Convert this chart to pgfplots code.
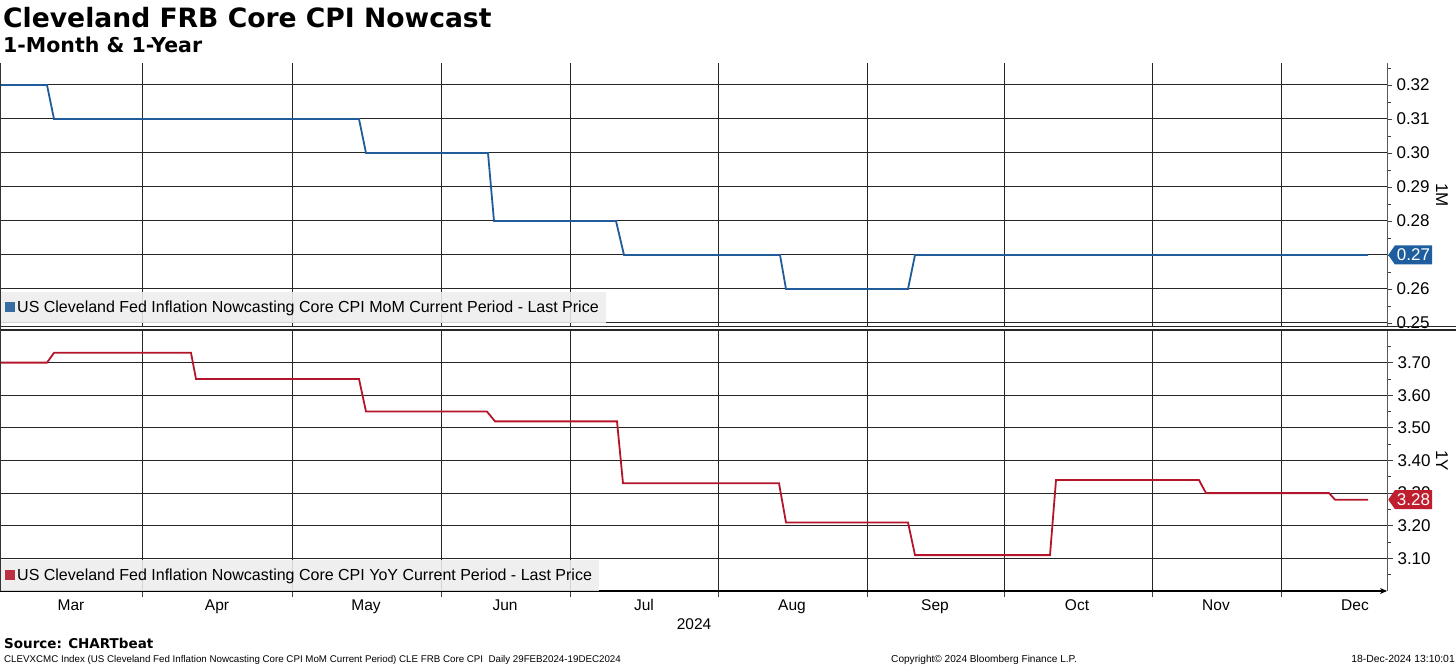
\documentclass[border=0pt]{standalone}
\usepackage{fontspec}
\setmainfont{Liberation Sans}
\newfontfamily\headfont{DejaVu Sans}
\usepackage{pgfplots}
\pgfplotsset{compat=1.18}
\usetikzlibrary{shapes.symbols,arrows.meta}

\definecolor{momblue}{HTML}{1F5C99}
\definecolor{tagblue}{HTML}{1E5E9E}
\definecolor{yoyred}{HTML}{B5152B}
\definecolor{tagred}{HTML}{BE1E2D}
\definecolor{legfill}{HTML}{EDEDED}

\pgfplotsset{
  panel/.style={
    scale only axis,
    width=1387pt,
    xmin=0, xmax=1387,
    clip mode=individual,
    axis x line*=bottom,
    axis y line*=right,
    y axis line style={black!65, line width=1pt},
    xtick={142,292,441,570,718,867,1004,1152,1281},
    xticklabels={},
    grid=major,
    major grid style={black!85, line width=1pt},
    tick align=outside,
    major tick length=5pt,
    minor tick length=4pt,
    every tick/.style={black!75, line width=0.8pt},
    yticklabel style={font=\fontsize{17}{17}\selectfont, xshift=1pt},
    /pgf/number format/.cd, fixed, fixed zerofill, precision=2, assume math mode=true,
    /pgfplots/.cd,
    ylabel style={rotate=180, font=\fontsize{17}{17}\selectfont,
      at={(axis description cs:1.0397,0.5)}, anchor=center},
    legend cell align=left,
    legend image code/.code={\fill[##1, draw=none] (0pt,-5pt) rectangle (10pt,5pt);},
    legend style={draw=none, fill=legfill, fill opacity=0.88, text opacity=1,
      font=\fontsize{16}{16}\selectfont, inner xsep=5pt, inner ysep=7pt,
      anchor=south west},
  },
}

\begin{document}
\begin{tikzpicture}[x=1pt,y=1pt]
\useasboundingbox (0,0) rectangle (1456,-666);

% titles
\node[anchor=base west, inner sep=0pt, font=\headfont\bfseries\fontsize{26.6}{26.6}\selectfont] at (3,-28) {Cleveland FRB Core CPI Nowcast};
\node[anchor=base west, inner sep=0pt, font=\headfont\bfseries\fontsize{20.5}{20.5}\selectfont] at (3,-53) {1-Month \& 1-Year};

% 1-month panel
\begin{axis}[panel,
  at={(0pt,-63pt)}, anchor=north west,
  height=264pt,
  ymin=0.24882, ymax=0.32647,
  ytick={0.25,0.26,0.27,0.28,0.29,0.30,0.31,0.32},
  minor ytick={0.255,0.265,0.275,0.285,0.295,0.305,0.315,0.325},
  x axis line style={draw=none},
  major x tick style={draw=none},
  ylabel={1M},
  legend style={at={(0,0.015)}},
]
\addplot[momblue, line width=1.8pt] coordinates {
  (0,0.32) (47,0.32) (54,0.31) (359,0.31) (366,0.30) (488,0.30) (494,0.28)
  (616,0.28) (624,0.27) (780,0.27) (786,0.26) (908,0.26) (915,0.27) (1368,0.27)
};
\addlegendentry{US Cleveland Fed Inflation Nowcasting Core CPI MoM Current Period - Last Price}
\node[signal, signal to=west, signal pointer angle=110, fill=tagblue, text=white,
  font=\fontsize{17}{17}\selectfont, inner xsep=2pt, inner ysep=1pt, minimum height=19pt,
  anchor=west] at (axis cs:1388,0.27) {0.27};
\end{axis}

% 1-year panel
\begin{axis}[panel,
  at={(0pt,-330pt)}, anchor=north west,
  height=261pt,
  ymin=3.0, ymax=3.8,
  ytick={3.1,3.2,3.3,3.4,3.5,3.6,3.7},
  minor ytick={3.05,3.15,3.25,3.35,3.45,3.55,3.65,3.75},
  x axis line style={black, line width=1.1pt, -{Stealth[length=7pt,width=6pt]}},
  major tick length=6pt,
  extra x ticks={71,217,366,505,644,792,935,1077,1216,1355},
  extra x tick labels={Mar,Apr,May,Jun,Jul,Aug,Sep,Oct,Nov,Dec},
  extra x tick style={grid=none, major tick length=0pt,
    xticklabel style={font=\fontsize{15.5}{15.5}\selectfont, yshift=-5pt}},
  ylabel={1Y},
  legend style={at={(0,0)}},
]
\addplot[yoyred, line width=1.8pt] coordinates {
  (0,3.70) (47,3.70) (54,3.73) (191,3.73) (196,3.65) (359,3.65) (366,3.55)
  (487,3.55) (495,3.52) (617,3.52) (623,3.33) (779,3.33) (786,3.21) (908,3.21)
  (915,3.11) (1050,3.11) (1056,3.34) (1199,3.34) (1206,3.30) (1329,3.30)
  (1335,3.28) (1368,3.28)
};
\addlegendentry{US Cleveland Fed Inflation Nowcasting Core CPI YoY Current Period - Last Price}
\node[signal, signal to=west, signal pointer angle=110, fill=tagred, text=white,
  font=\fontsize{17}{17}\selectfont, inner xsep=2pt, inner ysep=1pt, minimum height=19pt,
  anchor=west] at (axis cs:1388,3.28) {3.28};
\end{axis}

% panel separator and left edge
\draw[black!85, line width=1.2pt] (0,-326.5) -- (1456,-326.5);
\draw[black!85, line width=1.2pt] (0,-330) -- (1456,-330);
\draw[black!80, line width=0.8pt] (0.4,-63) -- (0.4,-591);

\node[anchor=base, inner sep=0pt, font=\fontsize{15.5}{15.5}\selectfont] at (694,-629) {2024};

% footer
\node[anchor=base west, inner sep=0pt, font=\headfont\bfseries\fontsize{13.5}{13.5}\selectfont] at (4,-648) {Source: CHARTbeat};
\node[anchor=base west, inner sep=0pt, font=\fontsize{9.75}{9.75}\selectfont] at (4,-662) {CLEVXCMC Index (US Cleveland Fed Inflation Nowcasting Core CPI MoM Current Period) CLE FRB Core CPI\ \ Daily 29FEB2024-19DEC2024};
\node[anchor=base west, inner sep=0pt, font=\fontsize{10.1}{10.1}\selectfont] at (891,-662) {Copyright© 2024 Bloomberg Finance L.P.};
\node[anchor=base east, inner sep=0pt, font=\fontsize{10.4}{10.4}\selectfont] at (1455,-662) {18-Dec-2024 13:10:01};
\end{tikzpicture}
\end{document}
